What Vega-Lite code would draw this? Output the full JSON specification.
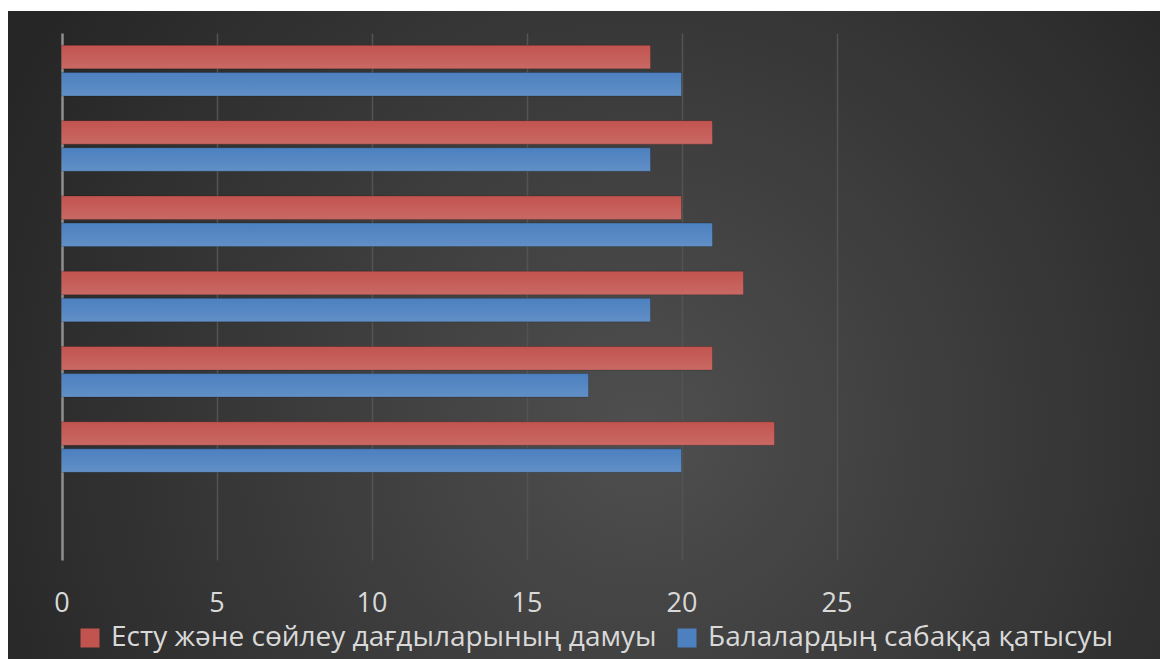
{
  "$schema": "https://vega.github.io/schema/vega-lite/v6.json",
  "width": 1152,
  "height": 648,
  "autosize": {"type": "none"},
  "padding": {"left": 8, "top": 11, "right": 0, "bottom": 0},
  "background": "white",
  "config": {
    "view": {
      "stroke": null,
      "fill": {
        "gradient": "radial",
        "x1": 0.55, "y1": 0.58, "r1": 0,
        "x2": 0.55, "y2": 0.58, "r2": 0.62,
        "stops": [
          {"offset": 0, "color": "#4f4f4f"},
          {"offset": 1, "color": "#262626"}
        ]
      }
    },
    "font": "Open Sans"
  },
  "data": {
    "values": [
      {"cat": "1", "series": "Есту және сөйлеу дағдыларының дамуы", "value": 19},
      {"cat": "1", "series": "Балалардың сабаққа қатысуы", "value": 20},
      {"cat": "2", "series": "Есту және сөйлеу дағдыларының дамуы", "value": 21},
      {"cat": "2", "series": "Балалардың сабаққа қатысуы", "value": 19},
      {"cat": "3", "series": "Есту және сөйлеу дағдыларының дамуы", "value": 20},
      {"cat": "3", "series": "Балалардың сабаққа қатысуы", "value": 21},
      {"cat": "4", "series": "Есту және сөйлеу дағдыларының дамуы", "value": 22},
      {"cat": "4", "series": "Балалардың сабаққа қатысуы", "value": 19},
      {"cat": "5", "series": "Есту және сөйлеу дағдыларының дамуы", "value": 21},
      {"cat": "5", "series": "Балалардың сабаққа қатысуы", "value": 17},
      {"cat": "6", "series": "Есту және сөйлеу дағдыларының дамуы", "value": 23},
      {"cat": "6", "series": "Балалардың сабаққа қатысуы", "value": 20}
    ]
  },
  "encoding": {
    "y": {
      "field": "cat",
      "type": "nominal",
      "scale": {
        "domain": ["1", "2", "3", "4", "5", "6", "7"],
        "range": [22, 549],
        "paddingInner": 0,
        "paddingOuter": 0
      },
      "axis": null
    },
    "yOffset": {
      "field": "series",
      "type": "nominal",
      "scale": {
        "domain": ["Есту және сөйлеу дағдыларының дамуы", "Балалардың сабаққа қатысуы"],
        "paddingInner": 0.133,
        "paddingOuter": 0.456
      }
    },
    "x": {
      "field": "value",
      "type": "quantitative",
      "scale": {"domain": [-1.726, 35.435], "nice": false, "zero": false},
      "axis": {
        "orient": "top",
        "offset": -600,
        "values": [0, 5, 10, 15, 20, 25],
        "domain": false,
        "ticks": false,
        "grid": true,
        "gridColor": {"condition": {"test": "datum.value === 0", "value": "#8f8f8f"}, "value": "#535353"},
        "gridWidth": {"condition": {"test": "datum.value === 0", "value": 2.5}, "value": 1.5},
        "labelFont": "Open Sans",
        "labelFontSize": 27,
        "labelColor": "#d9d9d9",
        "labelBaseline": "alphabetic",
        "labelPadding": 0,
        "title": null
      }
    }
  },
  "layer": [
    {
      "mark": {"type": "bar", "stroke": "black", "strokeOpacity": 0.2, "strokeWidth": 1},
      "encoding": {
        "color": {
          "field": "series",
          "type": "nominal",
          "scale": {
            "domain": ["Есту және сөйлеу дағдыларының дамуы", "Балалардың сабаққа қатысуы"],
            "range": ["#c2544f", "#4c80bf"]
          },
          "legend": {
            "orient": "none",
            "direction": "horizontal",
            "legendX": 68,
            "legendY": 613,
            "title": null,
            "padding": 0,
            "symbolType": "square",
            "symbolSize": 361,
            "symbolStrokeWidth": 0,
            "symbolOpacity": 1,
            "labelFont": "Open Sans",
            "labelFontSize": 28,
            "labelColor": "#d9d9d9",
            "labelOffset": 7,
            "columnPadding": 16,
            "labelLimit": 0
          }
        }
      }
    },
    {
      "mark": {
        "type": "bar",
        "strokeWidth": 0,
        "color": {
          "gradient": "linear",
          "x1": 0, "y1": 0, "x2": 0, "y2": 1,
          "stops": [
            {"offset": 0, "color": "rgba(255,255,255,0)"},
            {"offset": 1, "color": "rgba(255,255,255,0.12)"}
          ]
        }
      }
    }
  ]
}
